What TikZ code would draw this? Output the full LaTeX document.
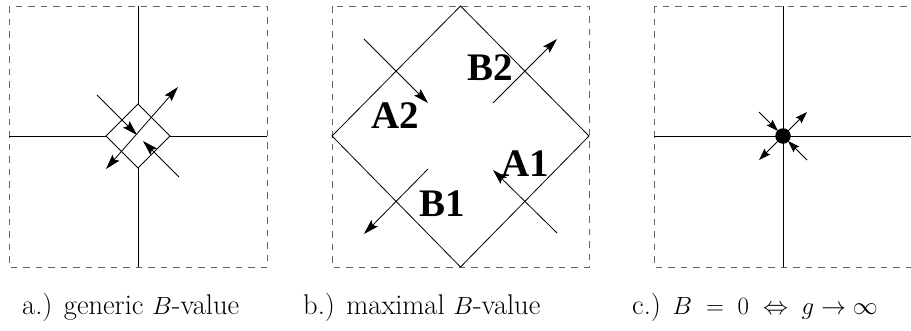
\documentclass[tikz,border=0pt]{standalone}
\usepackage{fontspec}
\usetikzlibrary{arrows.meta}
\newfontfamily\lblfont{Liberation Serif}
\begin{document}
\begin{tikzpicture}[x=1pt,y=-1pt,
  frame/.style={draw=black!60, line width=0.9pt, dash pattern=on 6.5pt off 6pt},
  ln/.style={line width=0.8pt},
  tipa/.tip={Stealth[length=15pt,width=9pt,inset=2.5pt]},
  arr/.style={ln, -tipa},
  darr/.style={ln, tipa-tipa},
  sarr/.style={ln, -{Stealth[length=12pt,width=8pt,inset=2pt]}},
  captext/.style={anchor=base west, inner sep=0pt, font=\fontsize{28.5}{32}\selectfont},
  big/.style={anchor=base, inner sep=0pt, font=\lblfont\bfseries\fontsize{39}{44}\selectfont}]
\useasboundingbox (0,0) rectangle (911,330);

% ---------- panel a ----------
\draw[frame] (9,6) rectangle (267,267);
\coordinate (aT) at (138,104);
\coordinate (aR) at (170,136);
\coordinate (aB) at (138,168);
\coordinate (aL) at (106,136);
\coordinate (aN) at (138,6);
\coordinate (aS) at (138,267);
\coordinate (aW) at (9,136);
\coordinate (aE) at (267,136);
\draw[ln] (aT) -- (aR) -- (aB) -- (aL) -- cycle;
\draw[ln] (aN) -- (aT);
\draw[ln] (aB) -- (aS);
\draw[ln] (aW) -- (aL);
\draw[ln] (aR) -- (aE);
\coordinate (a1s) at (97,95);
\coordinate (a1t) at (137,135);
\coordinate (a2s) at (179,177);
\coordinate (a2t) at (143,141);
\coordinate (a3) at (178,87);
\coordinate (a4) at (106,169);
\draw[arr] (a1s) -- (a1t);
\draw[arr] (a2s) -- (a2t);
\draw[darr] (a4) -- (a3);

% ---------- panel b ----------
\draw[frame] (332,6) rectangle (589,267);
\coordinate (bT) at (460.5,6);
\coordinate (bR) at (589,136);
\coordinate (bB) at (460.5,267);
\coordinate (bL) at (332,136);
\draw[ln] (bT) -- (bR) -- (bB) -- (bL) -- cycle;
\coordinate (b1s) at (364,39);   \coordinate (b1t) at (428,103);
\coordinate (b2s) at (493,103);  \coordinate (b2t) at (557,39);
\coordinate (b3s) at (428,169);  \coordinate (b3t) at (364,234);
\coordinate (b4s) at (557,233);  \coordinate (b4t) at (493,170);
\draw[arr] (b1s) -- (b1t);
\draw[arr] (b2s) -- (b2t);
\draw[arr] (b3s) -- (b3t);
\draw[arr] (b4s) -- (b4t);
\node[big] (lB2) at (490.7,80) {B2};
\node[big] (lA2) at (395,128.3) {A2};
\node[big] (lA1) at (525.3,176.7) {A1};
\node[big] (lB1) at (442,216.7) {B1};

% ---------- panel c ----------
\draw[frame] (654,6) rectangle (913,267);
\coordinate (cN) at (783,6);
\coordinate (cS) at (783,267);
\coordinate (cW) at (654,136);
\coordinate (cE) at (911,136);
\draw[ln] (cN) -- (cS);
\draw[ln] (cW) -- (cE);
\coordinate (cC) at (783,136);
\coordinate (c1s) at (759,112);  \coordinate (c1t) at (778,131);
\coordinate (c2t) at (807,112);
\coordinate (c3t) at (759,160);
\coordinate (c4s) at (807,160);  \coordinate (c4t) at (788,141);
\draw[sarr] (c1s) -- (c1t);
\draw[sarr] (cC) -- (c2t);
\draw[sarr] (cC) -- (c3t);
\draw[sarr] (c4s) -- (c4t);
\node[circle, fill=black, inner sep=0pt, minimum size=15.5pt] (cdot) at (cC) {};

% ---------- captions ----------
\node[captext] (capa) at (22,314) {a.) generic $B$-value};
\node[captext] (capb) at (303,314) {b.) maximal $B$-value};
\node[captext] (capc) at (632,314) {c.) $B\;=\;0\;\Leftrightarrow\;g\to\infty$};
\end{tikzpicture}
\end{document}
